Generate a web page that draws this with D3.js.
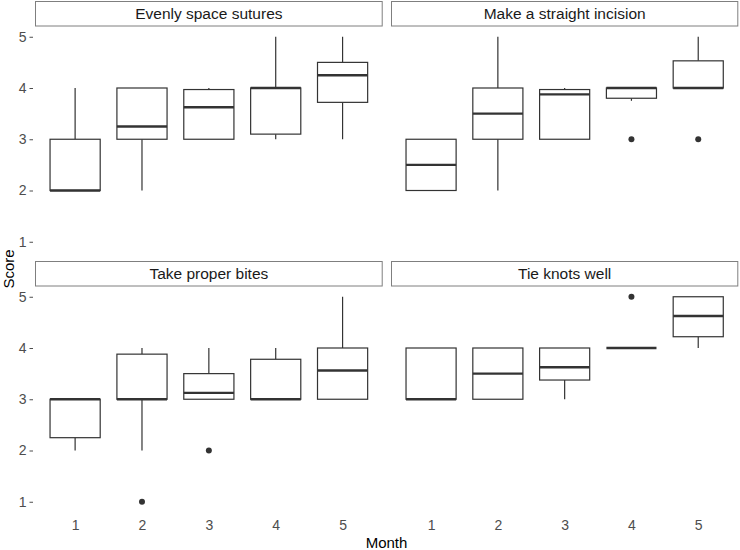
<!DOCTYPE html>
<html><head><meta charset="utf-8">
<script src="https://cdn.jsdelivr.net/npm/d3@7"></script>
<style>body{margin:0;background:#fff}</style>
</head><body>
<svg id="c" width="740" height="550"></svg>
<script>
const months = [1, 2, 3, 4, 5];
const panels = ["Evenly space sutures", "Make a straight incision", "Take proper bites", "Tie knots well"];
const yTicks = [1, 2, 3, 4, 5];
// per panel: arrays indexed by month
const lowerWhisker = [
  [2, 2, 3, 3, 3],
  [2, 2, 3, 3.75, 4],
  [2, 2, 3, 3, 3],
  [3, 3, 3, 4, 4]
];
const q1 = [
  [2, 3, 3, 3.1, 3.72],
  [2, 3, 3, 3.8, 4],
  [2.25, 3, 3, 3, 3],
  [3, 3, 3.375, 4, 4.22]
];
const medians = [
  [2, 3.25, 3.625, 4, 4.25],
  [2.5, 3.5, 3.875, 4, 4],
  [3, 3, 3.125, 3, 3.56],
  [3, 3.5, 3.625, 4, 4.625]
];
const q3 = [
  [3, 4, 3.97, 4, 4.5],
  [3, 4, 3.97, 4, 4.53],
  [3, 3.88, 3.5, 3.78, 4],
  [4, 4, 4, 4, 5]
];
const upperWhisker = [
  [4, 4, 4, 5, 5],
  [3, 5, 4, 4, 5],
  [3, 4, 4, 4, 5],
  [4, 4, 4, 4, 5]
];
// outliers: [panelIndex, month, value]
const outliers = [
  [1, 4, 3], [1, 5, 3],
  [2, 2, 1], [2, 3, 2],
  [3, 4, 5]
];

const svg = d3.select("#c");
const panelX = [[35, 382.7], [391, 738.3]];
const panelY = [[26.5, 252], [286.5, 512]];
const stripH = 25.5;
const ink = "#333333";
const font = "Liberation Sans, Arial, sans-serif";

panels.forEach((name, p) => {
  const col = p % 2, row = Math.floor(p / 2);
  const [x0, x1] = panelX[col];
  const [y0, y1] = panelY[row];
  // ggplot discrete scale: expansion of 0.6 units on each side
  const xc = d3.scaleLinear().domain([0.4, 5.6]).range([x0, x1]);
  const step = xc(2) - xc(1);
  const bw = step * 0.75;
  const y = d3.scaleLinear().domain([0.8, 5.2]).range([y1, y0]);
  const g = svg.append("g");

  // strip
  g.append("rect").attr("x", x0 + 0.5).attr("y", y0 - stripH + 0.5)
    .attr("width", x1 - x0 - 1).attr("height", stripH - 1)
    .attr("fill", "#fff").attr("stroke", "#7f7f7f").attr("stroke-width", 1);
  g.append("text").attr("x", (x0 + x1) / 2).attr("y", y0 - stripH / 2)
    .attr("dy", "0.36em").attr("text-anchor", "middle")
    .attr("font-family", font).attr("font-size", 15.5)
    .attr("fill", "#1a1a1a").text(name);

  // y axis on left column
  if (col === 0) {
    const ax = g.append("g").attr("transform", `translate(${x0},0)`)
      .call(d3.axisLeft(y).tickValues(yTicks).tickSize(3.5).tickPadding(3).tickFormat(d3.format("d")));
    ax.select(".domain").remove();
    ax.selectAll(".tick line").attr("stroke", "#4d4d4d").attr("transform", "translate(-2,0)");
    ax.selectAll(".tick text").attr("fill", "#4d4d4d").attr("font-size", 14)
      .attr("font-family", font).attr("dx", "-2");
  }
  // x axis on bottom row
  if (row === 1) {
    const ax = g.append("g").attr("transform", `translate(0,${y1})`)
      .call(d3.axisBottom(xc).tickValues(months).tickSize(3).tickPadding(5).tickFormat(d3.format("d")));
    ax.select(".domain").remove();
    ax.selectAll(".tick line").attr("stroke", "#fff");
    ax.selectAll(".tick text").attr("fill", "#4d4d4d").attr("font-size", 14)
      .attr("font-family", font);
  }

  months.forEach((m, i) => {
    const c = xc(m);
    if (upperWhisker[p][i] > q3[p][i])
      g.append("line").attr("x1", c).attr("x2", c).attr("y1", y(q3[p][i])).attr("y2", y(upperWhisker[p][i]))
        .attr("stroke", ink).attr("stroke-width", 1.2);
    if (lowerWhisker[p][i] < q1[p][i])
      g.append("line").attr("x1", c).attr("x2", c).attr("y1", y(q1[p][i])).attr("y2", y(lowerWhisker[p][i]))
        .attr("stroke", ink).attr("stroke-width", 1.2);
    g.append("rect").attr("x", c - bw / 2).attr("y", y(q3[p][i]))
      .attr("width", bw).attr("height", Math.max(0, y(q1[p][i]) - y(q3[p][i])))
      .attr("fill", "#fff").attr("stroke", ink).attr("stroke-width", 1.2);
    g.append("line").attr("x1", c - bw / 2).attr("x2", c + bw / 2)
      .attr("y1", y(medians[p][i])).attr("y2", y(medians[p][i]))
      .attr("stroke", ink).attr("stroke-width", 2.4);
  });

  outliers.filter(o => o[0] === p).forEach(o => {
    g.append("circle").attr("cx", xc(o[1])).attr("cy", y(o[2])).attr("r", 3).attr("fill", ink);
  });
});

svg.append("text").attr("x", 386.5).attr("y", 543).attr("dy", "0.35em").attr("text-anchor", "middle")
  .attr("font-family", font).attr("font-size", 15).attr("fill", "#000").text("Month");
svg.append("text").attr("transform", "translate(9,269) rotate(-90)").attr("dy", "0.35em").attr("text-anchor", "middle")
  .attr("font-family", font).attr("font-size", 15).attr("fill", "#000").text("Score");
</script>
</body></html>
